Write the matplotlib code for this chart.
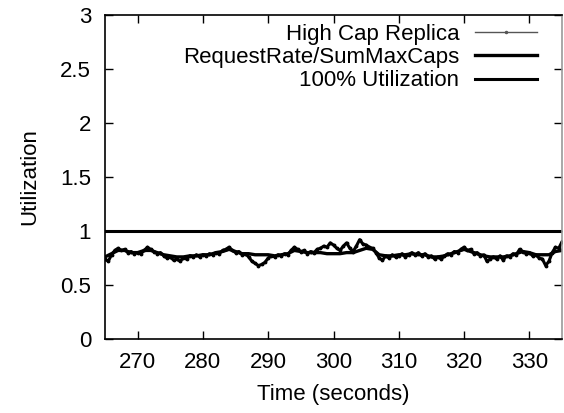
import numpy as np
import matplotlib
matplotlib.use("Agg")
import matplotlib.pyplot as plt
from matplotlib.ticker import FormatStrFormatter

plt.rcParams['font.family'] = ['Liberation Sans', 'DejaVu Sans']

# High Cap Replica: sampled every 0.5 s from 265 to 335
t_high = np.arange(265, 335.01, 0.5)
high_cap = [0.74, 0.72, 0.78, 0.82, 0.84, 0.82, 0.83, 0.80, 0.81, 0.79,
            0.80, 0.79, 0.82, 0.85, 0.83, 0.81, 0.79, 0.80, 0.77, 0.75,
            0.76, 0.73, 0.74, 0.72, 0.75, 0.74, 0.77, 0.76, 0.78, 0.76,
            0.78, 0.77, 0.79, 0.78, 0.80, 0.79, 0.82, 0.83, 0.85, 0.82,
            0.80, 0.81, 0.78, 0.79, 0.76, 0.72, 0.70, 0.68, 0.69, 0.71,
            0.75, 0.77, 0.76, 0.78, 0.77, 0.79, 0.78, 0.82, 0.85, 0.83,
            0.81, 0.82, 0.79, 0.81, 0.80, 0.83, 0.84, 0.86, 0.85, 0.89,
            0.87, 0.84, 0.82, 0.86, 0.89, 0.84, 0.81, 0.86, 0.92, 0.88,
            0.87, 0.85, 0.84, 0.80, 0.75, 0.73, 0.77, 0.75, 0.78, 0.76,
            0.77, 0.79, 0.76, 0.78, 0.80, 0.78, 0.80, 0.77, 0.79, 0.76,
            0.77, 0.74, 0.76, 0.74, 0.77, 0.79, 0.78, 0.81, 0.80, 0.83,
            0.85, 0.82, 0.83, 0.79, 0.80, 0.77, 0.78, 0.72, 0.74, 0.76,
            0.74, 0.77, 0.73, 0.77, 0.76, 0.79, 0.78, 0.83, 0.81, 0.79,
            0.80, 0.77, 0.78, 0.75, 0.74, 0.68, 0.72, 0.80, 0.85, 0.84,
            0.90]

# RequestRate/SumMaxCaps: sampled every 1 s from 265 to 335
t_req = np.arange(265, 336, 1)
req_rate = [0.76, 0.79, 0.82, 0.82, 0.80, 0.80, 0.82, 0.82, 0.80, 0.78,
            0.77, 0.76, 0.76, 0.77, 0.77, 0.78, 0.78, 0.80, 0.81, 0.83,
            0.81, 0.79, 0.79, 0.78, 0.78, 0.78, 0.77, 0.78, 0.79, 0.82,
            0.81, 0.80, 0.80, 0.80, 0.79, 0.79, 0.79, 0.80, 0.80, 0.82,
            0.84, 0.83, 0.78, 0.77, 0.77, 0.78, 0.78, 0.79, 0.78, 0.78,
            0.76, 0.76, 0.77, 0.79, 0.81, 0.83, 0.81, 0.79, 0.77, 0.76,
            0.76, 0.76, 0.77, 0.79, 0.81, 0.80, 0.78, 0.78, 0.78, 0.81,
            0.82]

x_ticks = [270, 280, 290, 300, 310, 320, 330]
y_ticks = [0, 0.5, 1, 1.5, 2, 2.5, 3]
full_util = 1.0

FS = 16

fig = plt.figure(figsize=(5.64, 4.13), dpi=100)
ax = fig.add_axes([105 / 564, 1 - 339 / 413, (562 - 105) / 564, (339 - 15) / 413])

ax.plot(t_high, high_cap, color='black', lw=2.2, marker='.', markersize=3.5,
        label='High Cap Replica')
ax.plot(t_req, req_rate, color='black', lw=2.4, label='RequestRate/SumMaxCaps')
ax.axhline(full_util, color='black', lw=2.2, label='100% Utilization')

ax.set_xlim(265, 335)
ax.set_ylim(0, 3)
ax.set_xticks(x_ticks)
ax.set_yticks(y_ticks)
ax.yaxis.set_major_formatter(FormatStrFormatter('%g'))
ax.tick_params(direction='in', top=True, right=True, length=6, width=1,
               labelsize=FS)
ax.tick_params(axis='x', pad=9)
ax.tick_params(axis='y', pad=10)
for s in ax.spines.values():
    s.set_linewidth(1.2)
ax.spines['right'].set_color('#999999')

ax.set_xlabel('Time (seconds)', fontsize=FS, labelpad=8)
ax.set_ylabel('Utilization', fontsize=FS, labelpad=14)

handles, labels = ax.get_legend_handles_labels()
leg = ax.legend(handles, labels, loc='upper right', bbox_to_anchor=(537 / 564, 1 - 24 / 413),
                bbox_transform=fig.transFigure, frameon=False, markerfirst=False,
                fontsize=FS, handlelength=2.8, handletextpad=0.7, labelspacing=0.1,
                borderpad=0, borderaxespad=0)
h0 = leg.legend_handles[0]
h0.set_color('#555555')
h0.set_linewidth(1.0)
h0.set_markersize(3)
h0.set_markevery([1])

fig.savefig('out.png', dpi=100)
